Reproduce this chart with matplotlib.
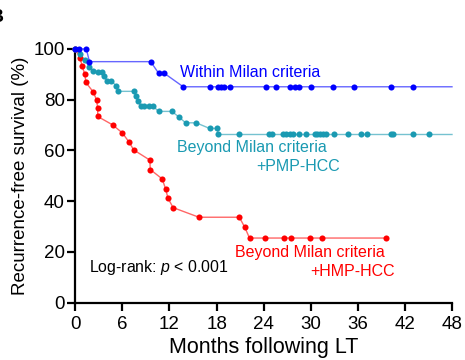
import matplotlib
matplotlib.use("Agg")
import matplotlib.pyplot as plt

# -----------------------------
# Data
# -----------------------------
follow_up_end = 48

within_months = [0, 0.5, 1.4, 1.8, 9.6, 10.6, 11.3, 13.75, 17.2, 18.2, 18.6,
                 19.0, 19.7, 24.3, 25.6, 27.4, 28.0, 28.5, 30.0, 32.8, 35.5,
                 40.2, 43.0]
within_surv = [100, 100, 100, 95, 95, 90.5, 90.5, 85.1, 85.1, 85.1, 85.1,
               85.1, 85.1, 85.1, 85.1, 85.1, 85.1, 85.1, 85.1, 85.1, 85.1,
               85.1, 85.1]

pmp_months = [0, 0.6, 1.2, 1.8, 2.2, 2.9, 3.4, 3.7, 4.0, 4.6,
              5.2, 5.5, 7.5, 7.7, 8.0, 8.35, 8.8, 9.4, 9.9, 10.6,
              12.3, 13.2, 14.05, 15.4, 17.1, 18.1, 18.2, 20.8, 24.7, 25.0,
              26.5, 26.9, 27.4, 27.7, 28.5, 29.4, 30.5, 30.8, 31.2, 31.6,
              31.95, 33.0, 34.8, 36.4, 37.2, 40.2, 40.5, 43.0, 45.1]
pmp_surv = [100, 98, 95.5, 93, 91.5, 91, 91, 89.3, 87.5, 87.5,
            85.4, 83.3, 83.3, 81.6, 79.4, 77.5, 77.5, 77.5, 77.5, 75.4,
            75.4, 73.2, 70.9, 70.9, 68.7, 68.7, 66.3, 66.3, 66.3, 66.3,
            66.3, 66.3, 66.3, 66.3, 66.3, 66.3, 66.3, 66.3, 66.3, 66.3,
            66.3, 66.3, 66.3, 66.3, 66.3, 66.3, 66.3, 66.3, 66.3]

hmp_months = [0, 0.6, 0.85, 1.2, 1.35, 2.27, 2.7, 2.85, 2.85, 4.75,
              6.0, 6.8, 7.45, 9.5, 9.55, 11.07, 11.5, 11.8, 12.45, 15.75,
              20.9, 21.6, 22.2, 24.2, 26.6, 27.5, 29.9, 31.4, 39.6]
hmp_surv = [100, 96.6, 93.3, 90.2, 86.8, 83.1, 80.0, 76.7, 73.4, 70.1,
            66.9, 63.5, 60.2, 56.2, 52.5, 48.8, 44.9, 41.3, 37.5, 33.7,
            33.7, 29.7, 25.5, 25.5, 25.5, 25.5, 25.5, 25.5, 25.5]

x_ticks = [0, 6, 12, 18, 24, 30, 36, 42, 48]
y_ticks = [0, 20, 40, 60, 80, 100]

blue = "#0000FF"
teal = "#1A9AB2"
red = "#FF0000"

# -----------------------------
# Fonts
# -----------------------------
plt.rcParams["font.family"] = "Liberation Sans"
plt.rcParams["mathtext.fontset"] = "custom"
plt.rcParams["mathtext.rm"] = "Liberation Sans"
plt.rcParams["mathtext.it"] = "Liberation Sans:italic"

# -----------------------------
# Figure
# -----------------------------
fig = plt.figure(figsize=(4.65, 3.6), dpi=100)
ax = fig.add_axes([0.162, 0.159, 0.810, 0.705])

# -----------------------------
# Curves (red, teal, blue on top)
# -----------------------------
series = [
    (hmp_months, hmp_surv, red, False),
    (pmp_months, pmp_surv, teal, True),
    (within_months, within_surv, blue, True),
]

for months, surv, color, extend in series:
    line_x = list(months)
    line_y = list(surv)
    if extend:
        line_x.append(follow_up_end)
        line_y.append(surv[-1])
    ax.plot(line_x, line_y, color=color, linewidth=1.0, alpha=0.6,
            clip_on=False, zorder=2)
    ax.plot(months, surv, linestyle="none", marker="o", markersize=4.4,
            color=color, markeredgewidth=0, clip_on=False, zorder=3)

# -----------------------------
# Axes
# -----------------------------
ax.set_xlim(0, 48)
ax.set_ylim(0, 100)
ax.set_xticks(x_ticks)
ax.set_yticks(y_ticks)

for side in ["top", "right"]:
    ax.spines[side].set_visible(False)
for side in ["left", "bottom"]:
    ax.spines[side].set_linewidth(1.6)

ax.tick_params(axis="both", direction="out", length=5.5, width=1.6,
               labelsize=13.5)
ax.tick_params(axis="x", pad=4)
ax.tick_params(axis="y", pad=2)

ax.set_xlabel("Months following LT", fontsize=15.5, labelpad=3)
ax.set_ylabel("Recurrence-free survival (%)", fontsize=13.5, labelpad=3)

# -----------------------------
# Annotations
# -----------------------------
ax.text(13.4, 90.7, "Within Milan criteria", color=blue, fontsize=11.5,
        ha="left", va="center")
ax.text(12.9, 61.0, "Beyond Milan criteria", color=teal, fontsize=11.5,
        ha="left", va="center")
ax.text(23.1, 53.5, "+PMP-HCC", color=teal, fontsize=11.5,
        ha="left", va="center")
ax.text(20.3, 19.9, "Beyond Milan criteria", color=red, fontsize=11.5,
        ha="left", va="center")
ax.text(29.9, 12.5, "+HMP-HCC", color=red, fontsize=11.5,
        ha="left", va="center")
ax.text(1.76, 14.0, "Log-rank: $p$ < 0.001", color="black", fontsize=11.4,
        ha="left", va="center")

# Panel letter, mostly cut off at the left edge
fig.text(0.008, 0.975, "B", fontsize=14, fontweight="bold",
         ha="right", va="top")

plt.savefig("out.png", dpi=100)
plt.close()
